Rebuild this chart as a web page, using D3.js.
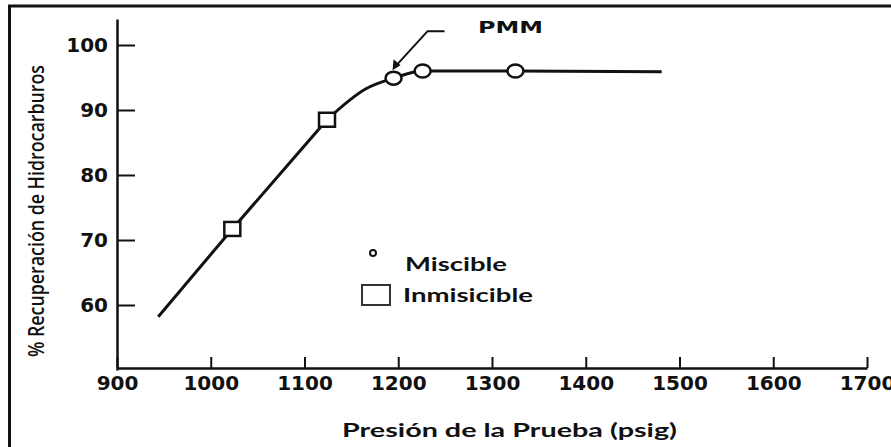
<!DOCTYPE html>
<html>
<head>
<meta charset="utf-8">
<script src="https://cdn.jsdelivr.net/npm/d3@7"></script>
<style>
  body { margin: 0; background: #fff; }
  svg { display: block; }
</style>
</head>
<body>
<div id="chart"></div>
<script>
// curve (psig, % recovery)
const curveP = [944, 1023, 1124, 1166, 1195, 1226, 1325, 1481],
    curveR = [58.2, 71.7, 88.5, 93.3, 94.9, 96.0, 96.0, 95.9];

// measured points
const miscibleP = [1195, 1226, 1325],
    miscibleR = [94.9, 96.0, 96.0],
    inmiscibleP = [1023, 1124],
    inmiscibleR = [71.7, 88.5];

const xTicks = [900, 1000, 1100, 1200, 1300, 1400, 1500, 1600, 1700],
    yTicks = [60, 70, 80, 90, 100];

const legendLabels = ['Miscible', 'Inmisicible'];

const width = 891,
    height = 447;

const svg = d3.select('#chart').append('svg')
    .attr('width', width)
    .attr('height', height);

// frame (top and left only, rest is cropped off)
svg.append('path')
    .attr('d', 'M9.5,447V6H891')
    .attr('fill', 'none')
    .attr('stroke', '#111')
    .attr('stroke-width', 3);

const x = d3.scaleLinear().domain([900, 1700]).range([117, 867]),
    y = d3.scaleLinear().domain([50, 104]).range([370, 19]);

const tickFont = 'DejaVu Sans, sans-serif';

const xAxis = svg.append('g')
    .attr('transform', `translate(0,${y(50) - 2})`)
    .call(d3.axisBottom(x).tickValues(xTicks).tickFormat(d3.format('d'))
        .tickSizeInner(-11).tickSizeOuter(0).tickPadding(8));

const yAxis = svg.append('g')
    .attr('transform', `translate(${x(900)},0)`)
    .call(d3.axisLeft(y).tickValues(yTicks)
        .tickSizeInner(-18).tickSizeOuter(0).tickPadding(9));

[xAxis, yAxis].forEach(ax => {
    ax.select('.domain').attr('stroke', '#111').attr('stroke-width', 2.5);
    ax.selectAll('.tick line').attr('stroke', '#111').attr('stroke-width', 2);
    ax.selectAll('.tick text')
        .attr('fill', '#111')
        .attr('font-family', tickFont)
        .attr('font-weight', 'bold')
        .attr('font-size', 20);
});

// axis titles
svg.append('text')
    .attr('transform', `translate(44,${(65 + 357) / 2}) rotate(-90)`)
    .attr('text-anchor', 'middle')
    .attr('font-family', 'Open Sans, sans-serif')
    .attr('font-weight', 600)
    .attr('font-size', 21)
    .attr('fill', '#111')
    .attr('textLength', 292)
    .attr('lengthAdjust', 'spacingAndGlyphs')
    .text('% Recuperación de Hidrocarburos');

svg.append('text')
    .attr('x', 342)
    .attr('y', 437)
    .attr('font-family', 'Lato, sans-serif')
    .attr('font-weight', 'bold')
    .attr('font-size', 18)
    .attr('fill', '#111')
    .attr('textLength', 335)
    .attr('lengthAdjust', 'spacingAndGlyphs')
    .text('Presión de la Prueba (psig)');

// recovery curve: straight part through the squares, then the bend
const pts = curveP.map((p, i) => [p, curveR[i]]),
    bend = inmiscibleP.length;
const lineGen = d3.line().x(d => x(d[0])).y(d => y(d[1]));
svg.append('path')
    .datum(pts.slice(0, bend + 1))
    .attr('fill', 'none')
    .attr('stroke', '#111')
    .attr('stroke-width', 3)
    .attr('stroke-linejoin', 'round')
    .attr('d', lineGen.curve(d3.curveLinear));
svg.append('path')
    .datum(pts.slice(bend))
    .attr('fill', 'none')
    .attr('stroke', '#111')
    .attr('stroke-width', 3)
    .attr('d', lineGen.curve(d3.curveMonotoneX));

// inmiscible squares
svg.append('g').selectAll('rect')
    .data(inmiscibleP.map((p, i) => [p, inmiscibleR[i]]))
    .enter().append('rect')
    .attr('x', d => x(d[0]) - 8)
    .attr('y', d => y(d[1]) - 7)
    .attr('width', 16)
    .attr('height', 14)
    .attr('fill', '#fff')
    .attr('stroke', '#111')
    .attr('stroke-width', 2.5);

// miscible circles (slightly oval in the picture)
svg.append('g').selectAll('ellipse')
    .data(miscibleP.map((p, i) => [p, miscibleR[i]]))
    .enter().append('ellipse')
    .attr('cx', d => x(d[0]))
    .attr('cy', d => y(d[1]))
    .attr('rx', 8)
    .attr('ry', 6.5)
    .attr('fill', '#fff')
    .attr('stroke', '#111')
    .attr('stroke-width', 2.5);

// PMM callout, points at the first miscible point
const tipX = x(miscibleP[0]) - 1,
    tipY = y(miscibleR[0]) - 8;
svg.append('path')
    .attr('d', `M${tipX + 52},${tipY - 39}H${tipX + 35}L${tipX + 4},${tipY - 5}`)
    .attr('fill', 'none')
    .attr('stroke', '#111')
    .attr('stroke-width', 2);
svg.append('path')
    .attr('d', `M${tipX},${tipY}L${tipX + 1},${tipY - 11}L${tipX + 8},${tipY - 5}Z`)
    .attr('fill', '#111');
svg.append('text')
    .attr('x', 478)
    .attr('y', 33)
    .attr('font-family', tickFont)
    .attr('font-weight', 'bold')
    .attr('font-size', 16)
    .attr('fill', '#111')
    .attr('textLength', 65)
    .attr('lengthAdjust', 'spacingAndGlyphs')
    .text('PMM');

// legend
svg.append('circle')
    .attr('cx', 373).attr('cy', 253).attr('r', 3)
    .attr('fill', '#fff').attr('stroke', '#111').attr('stroke-width', 2);
svg.append('rect')
    .attr('x', 362).attr('y', 285).attr('width', 28).attr('height', 20)
    .attr('fill', '#fff').attr('stroke', '#333').attr('stroke-width', 2);

svg.append('g').selectAll('text')
    .data(legendLabels)
    .enter().append('text')
    .attr('x', (d, i) => [405, 403][i])
    .attr('y', (d, i) => [271, 302][i])
    .attr('font-family', 'Lato, sans-serif')
    .attr('font-weight', 'bold')
    .attr('font-size', 19)
    .attr('fill', '#111')
    .attr('textLength', (d, i) => [102, 130][i])
    .attr('lengthAdjust', 'spacingAndGlyphs')
    .text(d => d);
</script>
</body>
</html>
